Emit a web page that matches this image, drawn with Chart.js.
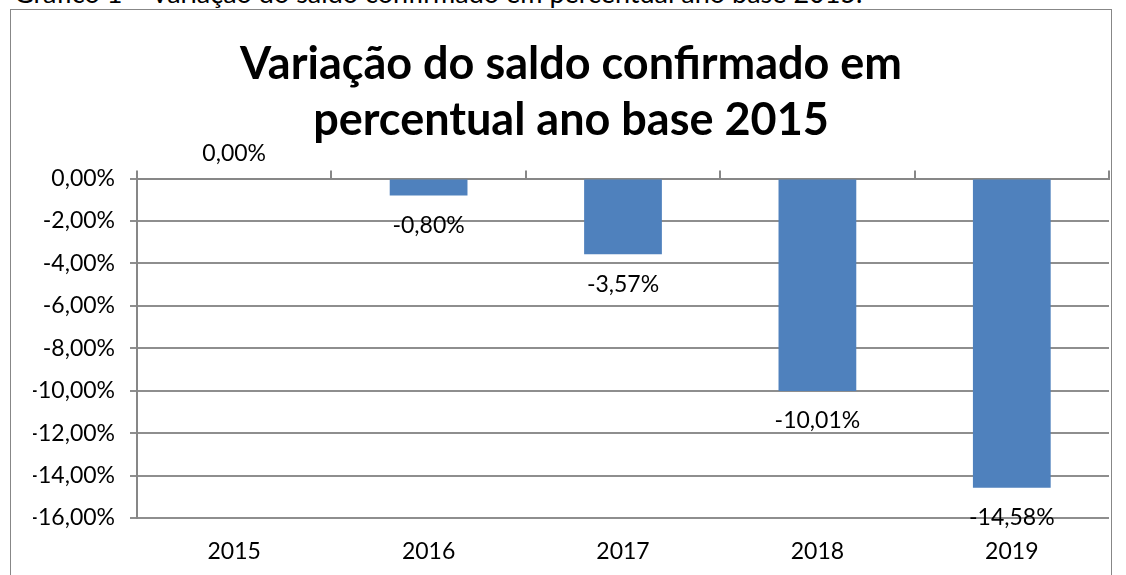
<!DOCTYPE html>
<html>
<head>
<meta charset="utf-8">
<script src="https://cdn.jsdelivr.net/npm/chart.js@4"></script>
<style>
	html, body { margin: 0; padding: 0; background: #fff; overflow: hidden; }
	.caption {
		position: absolute; left: 14px; top: -21px;
		font: 27px Lato, sans-serif; line-height: 27px; color: #000;
		white-space: nowrap;
	}
	.frame {
		position: absolute; left: 10px; top: 9px;
		width: 1102px; height: 600px;
		border: 1.5px solid #878787; box-sizing: border-box;
	}
	.frame canvas { position: absolute; left: 0; top: 0; }
</style>
</head>
<body>
<div class="caption">Gráfico 1 – Variação do saldo confirmado em percentual ano base 2015.</div>
<div class="frame"><canvas id="chart" width="1099" height="565"></canvas></div>
<script>
const years = ["2015", "2016", "2017", "2018", "2019"];
const variation = [0, -0.8, -3.57, -10.01, -14.58];
const yMin = -16;
const yMax = 0;
const yStep = 2;

const fmt = v => {
	const s = Math.abs(v).toFixed(2).replace(".", ",") + "%";
	return v < -0.0001 ? "-" + s : s;
};

const barLabels = {
	id: "barLabels",
	afterDatasetsDraw(chart) {
		const { ctx } = chart;
		const meta = chart.getDatasetMeta(0);
		ctx.save();
		ctx.font = "23px Lato";
		ctx.fillStyle = "#000";
		ctx.textAlign = "center";
		ctx.textBaseline = "middle";
		meta.data.forEach((bar, i) => {
			const v = variation[i];
			const y = v < 0 ? bar.y + 30 : bar.y - 25;
			ctx.fillText(fmt(v), bar.x, y);
		});
		ctx.restore();
	},
};

new Chart(document.getElementById("chart"), {
	type: "bar",
	plugins: [barLabels],
	data: {
		labels: years,
		datasets: [
			{
				data: variation,
				backgroundColor: "#4f81bd",
				borderWidth: 0,
				categoryPercentage: 1,
				barPercentage: 0.4,
				xAxisID: "x",
			},
		],
	},
	options: {
		responsive: false,
		animation: false,
		// left padding pushes the title centre right, y axis width is trimmed to match
		layout: { padding: { left: 22, right: 1, top: 0, bottom: 0 } },
		plugins: {
			legend: { display: false },
			tooltip: { enabled: false },
			title: {
				display: true,
				text: ["Variação do saldo confirmado em", "percentual ano base 2015"],
				color: "#000",
				font: { family: "Lato", size: 45, weight: "bold", lineHeight: 1.25 },
				padding: { top: 26, bottom: 22 },
			},
		},
		scales: {
			x: {
				position: "bottom",
				afterFit: scale => { scale.height = 57; },
				grid: { display: false, drawTicks: false },
				border: { display: false },
				ticks: { color: "#000", font: { family: "Lato", size: 23 }, padding: 20 },
			},
			xTop: {
				type: "category",
				labels: years,
				position: "top",
				offset: true,
				grid: {
					drawOnChartArea: false,
					drawTicks: true,
					tickLength: 8,
					color: "#878787",
					lineWidth: 2,
					offset: true,
				},
				border: { display: true, color: "#878787", width: 2 },
				ticks: { display: false },
			},
			y: {
				min: yMin,
				max: yMax,
				afterFit: scale => { scale.width = 104; },
				ticks: {
					stepSize: yStep,
					color: "#000",
					font: { family: "Lato", size: 23 },
					padding: 15,
					callback: v => fmt(v),
				},
				grid: { color: "#8e8e8e", lineWidth: 2, tickLength: 7 },
				border: { color: "#878787", width: 2 },
			},
		},
	},
});
</script>
</body>
</html>
